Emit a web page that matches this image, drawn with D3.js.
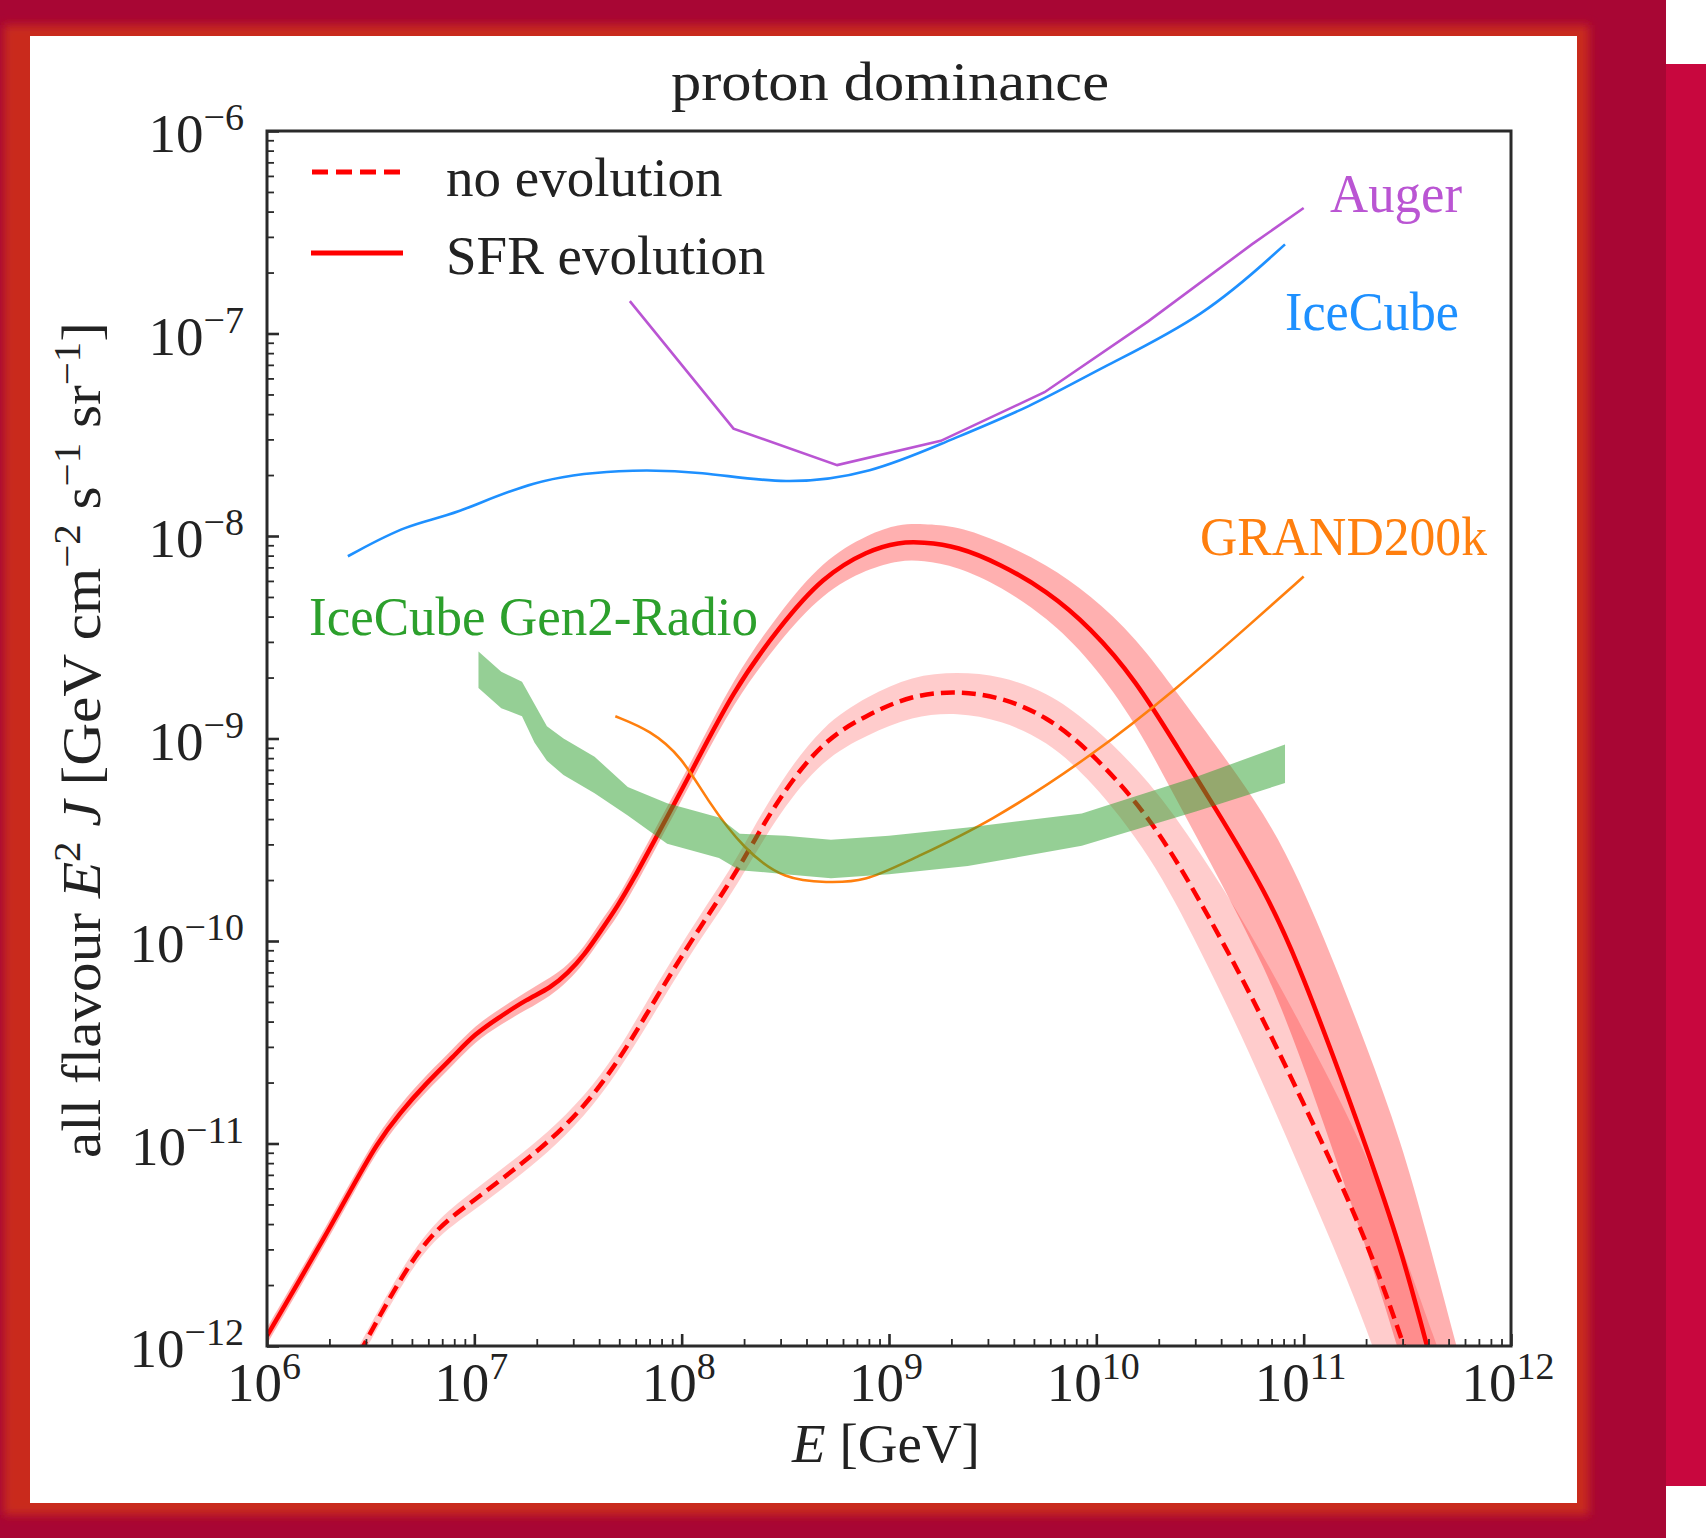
<!DOCTYPE html>
<html>
<head>
<meta charset="utf-8">
<script src="https://cdn.jsdelivr.net/npm/d3@7"></script>
<style>
html, body { margin: 0; padding: 0; background: #a80634; }
svg { display: block; }
text { font-family: "Liberation Serif", "Times New Roman", serif; fill: #222; }
</style>
</head>
<body>
<div id="chart"></div>
<script>
// values, stored as log10(E/GeV) and log10(E^2 J)
var xExps = [6, 7, 8, 9, 10, 11, 12];
var yExps = [-12, -11, -10, -9, -8, -7, -6];

// SFR evolution (solid) with its band
var sfrLogE  = [6.0, 6.16, 6.29, 6.42, 6.53, 6.64, 6.77, 6.90, 7.0, 7.13, 7.25, 7.37, 7.45, 7.53, 7.61, 7.69, 7.77, 7.86, 8.04, 8.25, 8.47, 8.68, 8.90, 9.05, 9.16, 9.33, 9.54, 9.76, 9.97, 10.19, 10.40, 10.56, 10.82, 10.98, 11.14, 11.30, 11.47, 11.59, 11.75];
var sfrLogJ  = [-11.95, -11.67, -11.44, -11.20, -11.00, -10.85, -10.70, -10.57, -10.46, -10.37, -10.29, -10.23, -10.16, -10.07, -9.95, -9.83, -9.69, -9.52, -9.18, -8.76, -8.45, -8.20, -8.07, -8.03, -8.03, -8.05, -8.14, -8.27, -8.45, -8.71, -9.06, -9.32, -9.76, -10.13, -10.56, -11.01, -11.52, -11.98, -12.60];
var sfrLogHi = [-11.91, -11.63, -11.40, -11.16, -10.96, -10.81, -10.66, -10.53, -10.42, -10.33, -10.25, -10.18, -10.12, -10.03, -9.90, -9.79, -9.64, -9.47, -9.13, -8.70, -8.38, -8.12, -7.99, -7.94, -7.94, -7.95, -8.03, -8.14, -8.29, -8.50, -8.79, -9.01, -9.38, -9.70, -10.09, -10.51, -10.99, -11.43, -12.05];
var sfrLogLo = [-11.99, -11.71, -11.48, -11.24, -11.04, -10.89, -10.74, -10.61, -10.50, -10.41, -10.34, -10.27, -10.20, -10.11, -9.99, -9.88, -9.74, -9.57, -9.23, -8.82, -8.52, -8.28, -8.16, -8.12, -8.12, -8.15, -8.25, -8.40, -8.61, -8.92, -9.33, -9.63, -10.14, -10.56, -11.03, -11.51, -12.05, -12.53, -13.16];

// no evolution (dashed) with its band
var noEvoLogE  = [6.30, 6.47, 6.64, 6.80, 7.0, 7.19, 7.35, 7.53, 7.69, 7.82, 7.96, 8.09, 8.22, 8.32, 8.47, 8.68, 8.90, 9.11, 9.33, 9.54, 9.76, 9.97, 10.26, 10.50, 10.74, 10.98, 11.22, 11.38, 11.48, 11.65];
var noEvoLogJ  = [-12.31, -11.99, -11.67, -11.43, -11.28, -11.13, -11.00, -10.82, -10.60, -10.38, -10.14, -9.93, -9.73, -9.56, -9.29, -9.01, -8.88, -8.785, -8.765, -8.795, -8.89, -9.06, -9.385, -9.80, -10.25, -10.76, -11.28, -11.69, -11.99, -12.50];
var noEvoLogHi = [-12.27, -11.95, -11.63, -11.39, -11.23, -11.08, -10.95, -10.77, -10.55, -10.32, -10.08, -9.87, -9.67, -9.49, -9.22, -8.93, -8.79, -8.69, -8.67, -8.69, -8.77, -8.92, -9.21, -9.56, -9.95, -10.40, -10.87, -11.25, -11.53, -12.02];
var noEvoLogLo = [-12.35, -12.03, -11.71, -11.47, -11.33, -11.18, -11.05, -10.87, -10.65, -10.44, -10.20, -9.99, -9.80, -9.63, -9.37, -9.10, -8.98, -8.89, -8.87, -8.91, -9.01, -9.20, -9.57, -10.04, -10.55, -11.12, -11.69, -12.13, -12.45, -12.98];

// experiments
var iceLogE = [6.39, 6.68, 6.90, 7.28, 7.70, 8.10, 8.50, 8.92, 9.26, 9.69, 10.02, 10.52, 10.91];
var iceLogJ = [-8.10, -7.94, -7.90, -7.72, -7.67, -7.68, -7.75, -7.69, -7.54, -7.36, -7.17, -6.92, -6.56];

var augerLogE = [7.75, 8.25, 8.75, 9.25, 9.75, 10.25, 10.75, 11.0];
var augerLogJ = [-6.84, -7.47, -7.65, -7.53, -7.29, -6.94, -6.56, -6.38];

var grandLogE = [7.68, 7.85, 8.0, 8.12, 8.3, 8.5, 8.7, 8.88, 9.1, 9.48, 10.0, 10.38, 10.76, 11.0];
var grandLogJ = [-8.89, -8.96, -9.09, -9.30, -9.55, -9.70, -9.71, -9.71, -9.60, -9.42, -9.07, -8.76, -8.42, -8.20];

var radioLogE  = [7.02, 7.13, 7.23, 7.29, 7.35, 7.43, 7.58, 7.74, 7.93, 8.04, 8.18, 8.28, 8.5, 8.72, 9.0, 9.38, 9.93, 10.48, 10.91];
var radioLogHi = [-8.57, -8.67, -8.72, -8.83, -8.94, -9.00, -9.09, -9.24, -9.32, -9.35, -9.39, -9.47, -9.48, -9.50, -9.48, -9.44, -9.37, -9.19, -9.03];
var radioLogLo = [-8.75, -8.85, -8.89, -9.02, -9.11, -9.18, -9.27, -9.38, -9.52, -9.55, -9.59, -9.65, -9.67, -9.69, -9.67, -9.63, -9.53, -9.36, -9.22];

var W = 1706, H = 1538;
var plot = {left: 267, right: 1511, top: 131, bottom: 1346};

var svg = d3.select("#chart").append("svg")
    .attr("width", W)
    .attr("height", H);

// ---- page frame ----
var defs = svg.append("defs");
defs.append("filter").attr("id", "glow")
    .attr("x", "-5%").attr("y", "-5%").attr("width", "110%").attr("height", "110%")
    .append("feGaussianBlur").attr("stdDeviation", 5);
defs.append("clipPath").attr("id", "plotclip")
    .append("rect")
    .attr("x", plot.left).attr("y", plot.top)
    .attr("width", plot.right - plot.left).attr("height", plot.bottom - plot.top);

svg.append("rect").attr("width", W).attr("height", H).attr("fill", "#a80634");
svg.append("rect").attr("x", 1666).attr("y", 0).attr("width", 40).attr("height", H).attr("fill", "#ffffff");
svg.append("rect").attr("x", 1666).attr("y", 64).attr("width", 40).attr("height", 1422).attr("fill", "#c8073e");
svg.append("rect").attr("x", 4).attr("y", 25).attr("width", 1585).attr("height", 1490)
    .attr("fill", "#c92b1f").attr("filter", "url(#glow)");
svg.append("rect").attr("x", 30).attr("y", 36).attr("width", 1547).attr("height", 1467).attr("fill", "#ffffff");

// ---- scales ----
var x = d3.scaleLog().domain([1e6, 1e12]).range([plot.left, plot.right]);
var y = d3.scaleLog().domain([1e-12, 1e-6]).range([plot.bottom, plot.top]);

function pts(es, js) {
    return es.map(function(e, i) { return {e: Math.pow(10, e), j: Math.pow(10, js[i])}; });
}
function bandPts(es, lo, hi) {
    return es.map(function(e, i) { return {e: Math.pow(10, e), lo: Math.pow(10, lo[i]), hi: Math.pow(10, hi[i])}; });
}

var smooth = d3.line().x(function(d){ return x(d.e); }).y(function(d){ return y(d.j); }).curve(d3.curveBasis);
var straight = d3.line().x(function(d){ return x(d.e); }).y(function(d){ return y(d.j); });
var smoothBand = d3.area().x(function(d){ return x(d.e); })
    .y0(function(d){ return y(d.lo); }).y1(function(d){ return y(d.hi); }).curve(d3.curveBasis);
var straightBand = d3.area().x(function(d){ return x(d.e); })
    .y0(function(d){ return y(d.lo); }).y1(function(d){ return y(d.hi); });

var g = svg.append("g").attr("clip-path", "url(#plotclip)");

// bands
g.append("path").attr("d", smoothBand(bandPts(noEvoLogE, noEvoLogLo, noEvoLogHi)))
    .attr("fill", "#ff0000").attr("fill-opacity", 0.2);
g.append("path").attr("d", smoothBand(bandPts(sfrLogE, sfrLogLo, sfrLogHi)))
    .attr("fill", "#ff0000").attr("fill-opacity", 0.31);

// lines
g.append("path").attr("d", smooth(pts(noEvoLogE, noEvoLogJ)))
    .attr("fill", "none").attr("stroke", "#ff0000").attr("stroke-width", 4.5)
    .attr("stroke-dasharray", "14,7");
g.append("path").attr("d", smooth(pts(sfrLogE, sfrLogJ)))
    .attr("fill", "none").attr("stroke", "#ff0000").attr("stroke-width", 4.5);
g.append("path").attr("d", smooth(pts(iceLogE, iceLogJ)))
    .attr("fill", "none").attr("stroke", "#1e90ff").attr("stroke-width", 2.6);
g.append("path").attr("d", straight(pts(augerLogE, augerLogJ)))
    .attr("fill", "none").attr("stroke", "#ba55d3").attr("stroke-width", 2.6);
g.append("path").attr("d", smooth(pts(grandLogE, grandLogJ)))
    .attr("fill", "none").attr("stroke", "#ff7f0e").attr("stroke-width", 2.6);

// radio band on top
g.append("path").attr("d", straightBand(bandPts(radioLogE, radioLogLo, radioLogHi)))
    .attr("fill", "#2ca02c").attr("fill-opacity", 0.5);

// ---- axes ----
var xMajor = xExps.map(function(p){ return Math.pow(10, p); });
var yMajor = yExps.map(function(p){ return Math.pow(10, p); });
var xMinor = [], yMinor = [];
xExps.slice(0, -1).forEach(function(p){ for (var k = 2; k <= 9; k++) xMinor.push(k * Math.pow(10, p)); });
yExps.slice(0, -1).forEach(function(p){ for (var k = 2; k <= 9; k++) yMinor.push(k * Math.pow(10, p)); });

var axisColor = "#2a2a2a";
function styleAxis(sel, w) {
    sel.select(".domain").remove();
    sel.selectAll(".tick line").attr("stroke", axisColor).attr("stroke-width", w);
    sel.selectAll(".tick text").remove();
}
svg.append("g").attr("transform", "translate(0," + plot.bottom + ")")
    .call(d3.axisBottom(x).tickValues(xMinor).tickSize(-7)).call(styleAxis, 1.8);
svg.append("g").attr("transform", "translate(0," + plot.bottom + ")")
    .call(d3.axisBottom(x).tickValues(xMajor).tickSize(-12)).call(styleAxis, 2.6);
svg.append("g").attr("transform", "translate(" + plot.left + ",0)")
    .call(d3.axisLeft(y).tickValues(yMinor).tickSize(-7)).call(styleAxis, 1.8);
svg.append("g").attr("transform", "translate(" + plot.left + ",0)")
    .call(d3.axisLeft(y).tickValues(yMajor).tickSize(-12)).call(styleAxis, 2.6);

svg.append("rect")
    .attr("x", plot.left).attr("y", plot.top)
    .attr("width", plot.right - plot.left).attr("height", plot.bottom - plot.top)
    .attr("fill", "none").attr("stroke", axisColor).attr("stroke-width", 3);

// tick labels 10^n
function expText(n) { return n < 0 ? "\u2212" + (-n) : String(n); }
function powLabel(sel, n) {
    sel.append("tspan").text("10");
    sel.append("tspan").attr("dy", -22).attr("font-size", 38).text(expText(n));
}
svg.selectAll(".xlab").data(xExps).join("text")
    .attr("class", "xlab")
    .attr("x", function(d){ return x(Math.pow(10, d)) - 3; })
    .attr("y", 1401)
    .attr("text-anchor", "middle")
    .attr("font-size", 55)
    .each(function(d){ powLabel(d3.select(this), d); });
svg.selectAll(".ylab").data(yExps).join("text")
    .attr("class", "ylab")
    .attr("x", 244)
    .attr("y", function(d){ return y(Math.pow(10, d)) + 21; })
    .attr("text-anchor", "end")
    .attr("font-size", 55)
    .each(function(d){ powLabel(d3.select(this), d); });

// title and axis labels
svg.append("text").attr("x", 890).attr("y", 100).attr("text-anchor", "middle")
    .attr("font-size", 55).attr("textLength", 438).attr("lengthAdjust", "spacingAndGlyphs")
    .text("proton dominance");

var xl = svg.append("text").attr("x", 886).attr("y", 1462).attr("text-anchor", "middle").attr("font-size", 55);
xl.append("tspan").attr("font-style", "italic").text("E");
xl.append("tspan").text(" [GeV]");

var yl = svg.append("text").attr("transform", "translate(100,740) rotate(-90)")
    .attr("text-anchor", "middle").attr("font-size", 55)
    .attr("textLength", 836).attr("lengthAdjust", "spacingAndGlyphs");
yl.append("tspan").text("all flavour ");
yl.append("tspan").attr("font-style", "italic").text("E");
yl.append("tspan").attr("dy", -20).attr("font-size", 38).text("2");
yl.append("tspan").attr("dy", 20).text(" ");
yl.append("tspan").attr("font-style", "italic").text("J");
yl.append("tspan").text(" [GeV cm");
yl.append("tspan").attr("dy", -20).attr("font-size", 38).text("\u22122");
yl.append("tspan").attr("dy", 20).text(" s");
yl.append("tspan").attr("dy", -20).attr("font-size", 38).text("\u22121");
yl.append("tspan").attr("dy", 20).text(" sr");
yl.append("tspan").attr("dy", -20).attr("font-size", 38).text("\u22121");
yl.append("tspan").attr("dy", 20).text("]");

// legend
svg.append("line").attr("x1", 312).attr("x2", 402).attr("y1", 172).attr("y2", 172)
    .attr("stroke", "#ff0000").attr("stroke-width", 5).attr("stroke-dasharray", "16,8");
svg.append("line").attr("x1", 311).attr("x2", 403).attr("y1", 253).attr("y2", 253)
    .attr("stroke", "#ff0000").attr("stroke-width", 5);
svg.append("text").attr("x", 446).attr("y", 196).attr("font-size", 55).text("no evolution");
svg.append("text").attr("x", 446).attr("y", 274).attr("font-size", 55).text("SFR evolution");

// experiment annotations
var notes = [
    {t: "Auger", x: 1330, y: 212, c: "#ba55d3", w: 132},
    {t: "IceCube", x: 1285, y: 330, c: "#1e90ff", w: 174},
    {t: "GRAND200k", x: 1200, y: 555, c: "#ff7f0e", w: 287},
    {t: "IceCube Gen2-Radio", x: 309, y: 635, c: "#2ca02c", w: 449}
];
svg.selectAll(".note").data(notes).join("text")
    .attr("class", "note")
    .attr("x", function(d){ return d.x; })
    .attr("y", function(d){ return d.y; })
    .attr("font-size", 55)
    .attr("textLength", function(d){ return d.w; })
    .attr("lengthAdjust", "spacingAndGlyphs")
    .style("fill", function(d){ return d.c; })
    .text(function(d){ return d.t; });
</script>
</body>
</html>
